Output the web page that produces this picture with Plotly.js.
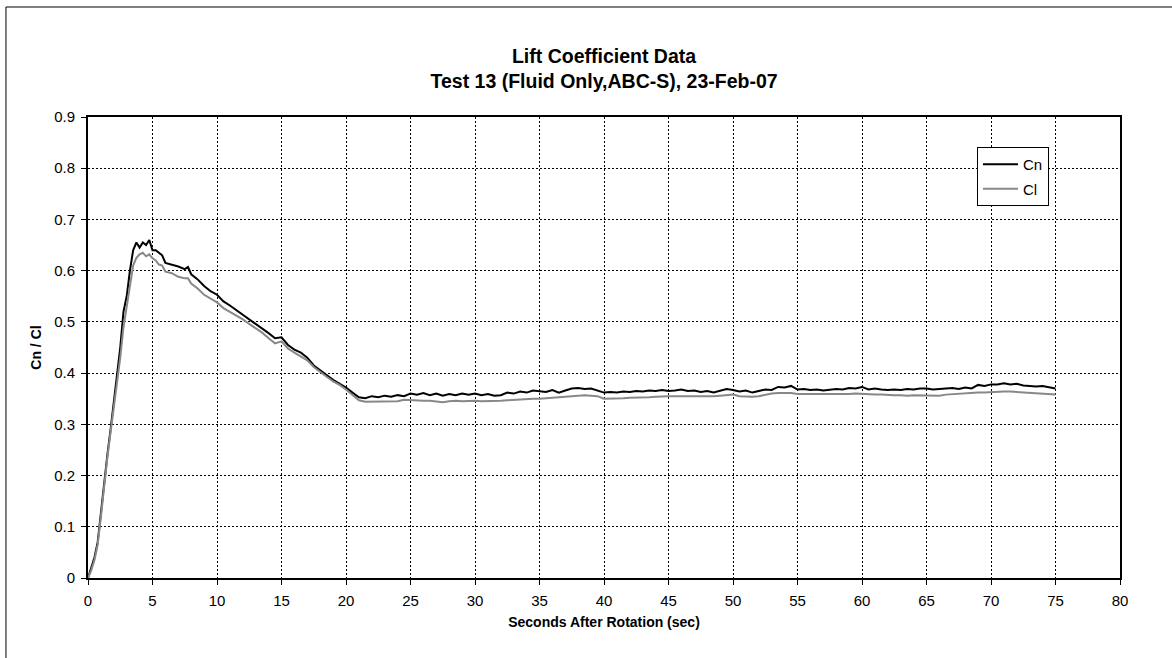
<!DOCTYPE html>
<html>
<head>
<meta charset="utf-8">
<script src="https://cdn.plot.ly/plotly-3.0.1.min.js"></script>
<style>
  html, body { margin: 0; padding: 0; background: #fff; }
  #chart { width: 1172px; height: 658px; }
</style>
</head>
<body>
<div id="chart"></div>
<script>
// Time (seconds after rotation)
const timeSec = [
  0,0.25,0.5,0.75,1,1.25,1.5,1.75,2,2.25,2.5,2.75,3,3.25,3.5,3.75,4,4.25,4.5,4.75,5,5.25,5.5,5.75,6,
  6.5,7,7.5,7.75,
  8,8.5,9,9.5,10,10.5,11,11.5,12,12.5,13,13.5,14,14.5,15,15.5,16,16.5,17,17.5,18,18.5,19,19.5,20,20.5,21,21.5,
  22,22.5,23,23.5,24,24.5,25,25.5,26,26.5,
  27,27.5,28,28.5,29,29.5,30,30.5,31,31.5,
  32,32.5,33,33.5,34,34.5,35,35.5,36,36.5,
  37,37.5,38,38.5,39,39.5,40,40.5,41,41.5,
  42,42.5,43,43.5,44,44.5,45,45.5,46,46.5,
  47,47.5,48,48.5,49,49.5,50,50.5,51,51.5,
  52,52.5,53,53.5,54,54.5,55,55.5,56,56.5,
  57,57.5,58,58.5,59,59.5,60,60.5,61,61.5,
  62,62.5,63,63.5,64,64.5,65,65.5,66,66.5,
  67,67.5,68,68.5,69,69.5,70,70.5,71,71.5,
  72,72.5,73,73.5,74,74.5,75
];

// Cn series
const cnValues = [
  0,0.02,0.04,0.07,0.13,0.19,0.24,0.29,0.34,0.39,0.45,0.52,0.55,0.60,0.64,0.655,0.645,0.655,0.65,0.66,0.64,0.64,0.635,0.63,0.615,
  0.612,0.608,0.603,0.607,
  0.593,0.583,0.57,0.56,0.553,0.54,0.532,0.523,0.515,0.505,0.497,0.487,0.478,0.468,0.47,0.455,0.446,0.44,0.43,0.415,0.405,0.396,0.387,0.38,0.372,0.362,0.353,0.351,
  0.355,0.353,0.356,0.354,0.357,0.355,0.360,0.358,0.361,0.357,
  0.360,0.356,0.359,0.357,0.360,0.358,0.360,0.357,0.359,0.356,
  0.357,0.362,0.360,0.364,0.362,0.366,0.364,0.363,0.367,0.362,
  0.366,0.370,0.371,0.369,0.370,0.366,0.362,0.363,0.362,0.364,
  0.363,0.365,0.364,0.366,0.365,0.367,0.365,0.366,0.368,0.365,
  0.366,0.363,0.365,0.362,0.366,0.369,0.367,0.364,0.366,0.362,
  0.365,0.368,0.367,0.373,0.372,0.375,0.368,0.369,0.367,0.368,
  0.366,0.368,0.369,0.368,0.371,0.370,0.373,0.368,0.370,0.368,
  0.367,0.368,0.367,0.369,0.368,0.370,0.370,0.368,0.369,0.370,
  0.371,0.369,0.372,0.370,0.377,0.375,0.378,0.378,0.380,0.378,
  0.379,0.376,0.375,0.374,0.375,0.372,0.370
];

// Cl series
const clValues = [
  0,0.015,0.035,0.065,0.12,0.18,0.235,0.285,0.33,0.38,0.43,0.49,0.53,0.575,0.61,0.625,0.632,0.635,0.628,0.632,0.624,0.62,0.612,0.61,0.598,
  0.595,0.588,0.585,0.585,
  0.575,0.565,0.553,0.545,0.538,0.527,0.52,0.513,0.505,0.496,0.488,0.479,0.468,0.458,0.462,0.448,0.44,0.433,0.425,0.412,0.402,0.393,0.384,0.377,0.368,0.357,0.347,0.344,
  0.344,0.344,0.345,0.344,0.345,0.348,0.347,0.347,0.346,0.346,
  0.345,0.343,0.345,0.346,0.345,0.346,0.346,0.345,0.345,0.346,
  0.346,0.347,0.348,0.348,0.349,0.350,0.350,0.351,0.352,0.353,
  0.354,0.355,0.357,0.357,0.356,0.355,0.350,0.350,0.351,0.351,
  0.352,0.352,0.353,0.353,0.354,0.355,0.355,0.355,0.355,0.355,
  0.354,0.354,0.354,0.355,0.356,0.357,0.358,0.355,0.354,0.354,
  0.355,0.358,0.360,0.361,0.361,0.361,0.359,0.359,0.358,0.358,
  0.359,0.359,0.359,0.358,0.359,0.360,0.359,0.358,0.358,0.358,
  0.357,0.357,0.357,0.356,0.357,0.357,0.357,0.357,0.356,0.358,
  0.359,0.359,0.360,0.361,0.362,0.362,0.363,0.363,0.364,0.364,
  0.363,0.362,0.361,0.360,0.360,0.359,0.358
];

const seriesNames = ["Cn", "Cl"];
const chartTitle = "Lift Coefficient Data<br>Test 13 (Fluid Only,ABC-S), 23-Feb-07";
const xTitle = "Seconds After Rotation (sec)";
const yTitle = "Cn / Cl";

const FONT = '"Liberation Sans", Arial, Helvetica, sans-serif';

const traces = [
  { x: timeSec, y: cnValues, name: seriesNames[0], type: "scatter", mode: "lines",
    line: { color: "#000000", width: 2 }, legendgroup: "a" },
  { x: timeSec, y: clValues, name: seriesNames[1], type: "scatter", mode: "lines",
    line: { color: "#888888", width: 2 }, legendgroup: "b" }
];

const axisCommon = {
  showline: true, linecolor: "#000", linewidth: 2, mirror: true,
  ticks: "outside", ticklen: 5, tickcolor: "#000", tickwidth: 1,
  showgrid: true, gridcolor: "#000", gridwidth: 1, griddash: "2px,2px",
  zeroline: false,
  tickfont: { family: FONT, size: 15, color: "#000" }
};

const layout = {
  width: 1172, height: 658,
  paper_bgcolor: "#fff", plot_bgcolor: "#fff",
  margin: { l: 88, r: 52, t: 117, b: 80 },
  font: { family: FONT, color: "#000" },
  title: {
    text: chartTitle,
    font: { family: FONT, size: 19.5, color: "#000", weight: "bold" },
    x: 0.5154, xanchor: "center", y: 0.905, yanchor: "middle", yref: "container"
  },
  xaxis: Object.assign({}, axisCommon, {
    range: [0, 80], dtick: 5, tick0: 0, ticklabelstandoff: 3,
    title: { text: xTitle, font: { family: FONT, size: 14, color: "#000", weight: "bold" }, standoff: 9 }
  }),
  yaxis: Object.assign({}, axisCommon, {
    range: [0, 0.9], dtick: 0.1, tick0: 0, ticklabelstandoff: 3,
    title: { text: yTitle, font: { family: FONT, size: 14, color: "#000", weight: "bold" }, standoff: 9 }
  }),
  showlegend: true,
  legend: {
    x: 0.8614, xanchor: "left", y: 0.935, yanchor: "top",
    bgcolor: "#fff", bordercolor: "#000", borderwidth: 1,
    font: { family: FONT, size: 15, color: "#000" },
    traceorder: "grouped", tracegroupgap: 2, itemwidth: 35
  },
  shapes: [
    { type: "rect", xref: "paper", yref: "paper",
      x0: -0.0795, x1: 1.06, y0: -0.2, y1: 1.2386,
      line: { color: "#000", width: 1 }, fillcolor: "rgba(0,0,0,0)", layer: "below" }
  ]
};

Plotly.newPlot("chart", traces, layout, { displayModeBar: false, staticPlot: true });
</script>
</body>
</html>
